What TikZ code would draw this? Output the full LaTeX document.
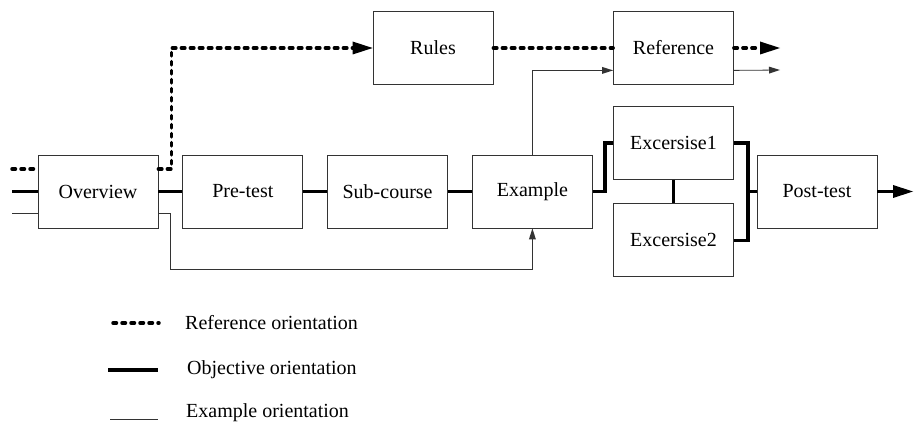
\documentclass[tikz,border=0pt]{standalone}
\usepackage{fontspec}
\setmainfont{Liberation Serif}
\usetikzlibrary{arrows.meta, positioning}

\begin{document}
\begin{tikzpicture}[
        x=1pt, y=-1pt,
        % Styles for reuse
        node distance = 24pt, % gap between the boxes
        every node/.style = {font=\fontsize{20}{24}\selectfont},
        % Course step boxes
        box/.style = {
            rectangle,
            draw=black!80,
            line width=0.8pt,
            minimum width=120pt,
            minimum height=73pt,
            inner sep=0pt,
            align=center
        },
        % The three orientations
        objline/.style = {line width=3.5pt, line join=miter},
        refline/.style = {line width=3.5pt, line cap=round, dash pattern=on 3.5pt off 5.5pt},
        exline/.style = {line width=0.8pt, draw=black!80},
        bigtip/.style = {-{Triangle[length=20pt, width=13pt, line width=0pt]}},
        smalltip/.style = {-{Triangle[length=11pt, width=7pt, line width=0pt]}},
        legtext/.style = {anchor=west, inner sep=0pt}
    ]
        \useasboundingbox (0,0) rectangle (914,425);

        % 1. Boxes
        \node (overview)  [box] at (98,191.5) {Overview};
        \node (pretest)   [box, right=of overview] {Pre-test};
        \node (subcourse) [box, right=of pretest] {Sub-course};
        \node (example)   [box, right=of subcourse] {Example};
        \node (rules)     [box] at (433,48) {Rules};
        \node (reference) [box] at (673.5,48) {Reference};
        \node (ex1)       [box] at (673.5,143) {Excersise1};
        \node (ex2)       [box, below=23.5pt of ex1] {Excersise2};
        \node (posttest)  [box] at (817,191.5) {Post-test};

        % 2. Free ends and bends
        \coordinate (refin)  at (12,169);
        \coordinate (objin)  at (12,191.5);
        \coordinate (exin)   at (12,213);
        \coordinate (low)    at (170,269);
        \coordinate (merge)  at (748,191.5);
        \coordinate (exup)   at ([yshift=14.5pt]reference.south west);
        \coordinate (exback) at ([yshift=14.5pt]reference.south east);
        \coordinate (refout) at (780,48);
        \coordinate (exout)  at (780,70);
        \coordinate (objout) at (913,191.5);

        % 3. Objective orientation
        \draw [objline] (objin) -- (overview.west);
        \draw [objline] (overview) -- (pretest);
        \draw [objline] (pretest) -- (subcourse);
        \draw [objline] (subcourse) -- (example);
        \draw [objline] (example.east) -- ++(12,0) |- (ex1.west);
        \draw [objline] (ex1) -- (ex2);
        \draw [objline] (ex1.east) -| (merge) |- (ex2.east);
        \draw [objline] (merge) -- (posttest.west);
        \draw [objline, bigtip] (posttest.east) -- (objout);

        % 4. Reference orientation
        \draw [refline] (refin) -- (overview.west |- refin);
        \draw [refline, bigtip] (overview.east |- refin) -- ++(13,0) |- (rules.west);
        \draw [refline] (rules) -- (reference);
        \draw [refline, bigtip] (reference.east) -- (refout);

        % 5. Example orientation
        \draw [exline] (exin) -- (overview.west |- exin);
        \draw [exline, smalltip] (overview.east |- exin) -| (low) -| (example.south);
        \draw [exline, smalltip] (example.north) |- (exup);
        \draw [exline, smalltip] (exback) -- (exout);

        % 6. Legend
        \node (legref) [legtext] at (185,323) {Reference orientation};
        \node (legobj) [legtext] at (187,370) {Objective orientation};
        \node (legex)  [legtext] at (186,413) {Example orientation};
        \draw [refline] ([xshift=-72pt]legref.west) -- ++(46,0);
        \draw [objline] ([xshift=-79pt]legobj.west) -- ++(50,0);
        \draw [exline]  ([xshift=-76pt]legex.west |- 0,419) -- ++(48,0);
    \end{tikzpicture}
\end{document}
